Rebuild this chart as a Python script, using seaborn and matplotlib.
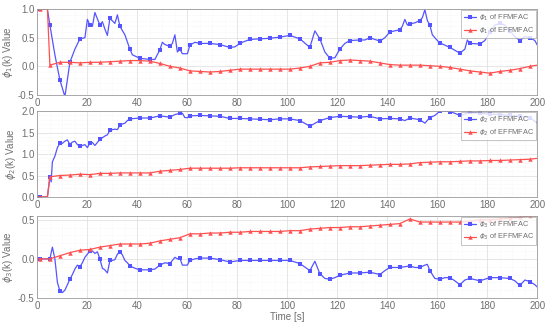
import numpy as np
import pandas as pd
import seaborn as sns
import matplotlib
matplotlib.use("Agg")
import matplotlib.pyplot as plt
from matplotlib.ticker import MultipleLocator, FormatStrFormatter

# ---- panel 1 ----
t1_ff = [0, 1, 4, 5, 7, 9, 11, 13, 15, 17, 19, 20, 21, 22, 23, 25, 26, 27, 28, 29, 31, 32, 33, 35, 37, 38,
         41, 45, 47, 49, 50, 51, 53, 54, 55, 56, 57, 58, 60, 61, 63, 65, 69, 73, 77, 79, 81, 82, 85, 89,
         93, 97, 101, 105, 109, 111, 113, 115, 117, 119, 121, 123, 125, 129, 131, 133, 137, 139, 141, 145,
         146, 147, 148, 149, 151, 153, 154, 155, 156, 157, 158, 160, 161, 165, 167, 169, 171, 172, 173, 177,
         179, 181, 183, 185, 187, 189, 191, 193, 195, 197, 199, 200]
phi1_ff = [1.0, 1.0, 1.0, 0.72, 0.2, -0.24, -0.53, 0.07, 0.3, 0.48, 0.5, 0.82, 0.72, 0.7, 0.94, 0.72, 0.78,
           0.65, 0.54, 0.84, 0.75, 0.9, 0.7, 0.55, 0.3, 0.2, 0.14, 0.12, 0.12, 0.29, 0.42, 0.38, 0.35, 0.4,
           0.55, 0.25, 0.3, 0.22, 0.22, 0.37, 0.42, 0.4, 0.4, 0.38, 0.33, 0.34, 0.4, 0.42, 0.47, 0.48, 0.49,
           0.51, 0.54, 0.48, 0.33, 0.62, 0.48, 0.25, 0.14, 0.15, 0.3, 0.4, 0.45, 0.46, 0.46, 0.5, 0.44, 0.5,
           0.6, 0.64, 0.7, 0.82, 0.72, 0.74, 0.76, 0.8, 0.85, 0.99, 0.8, 0.72, 0.55, 0.45, 0.41, 0.33, 0.28,
           0.23, 0.3, 0.46, 0.4, 0.39, 0.45, 0.6, 0.72, 0.75, 0.72, 0.62, 0.52, 0.45, 0.52, 0.5, 0.45, 0.37]

t_eff = [0, 1, 4, 5, 9, 13, 17, 21, 25, 29, 33, 37, 41, 45, 49, 53, 57, 61, 65, 69, 73, 77, 81, 85, 89, 93,
         97, 101, 105, 109, 113, 117, 121, 125, 129, 133, 137, 141, 145, 149, 153, 157, 161, 165, 169, 173,
         177, 181, 185, 189, 193, 197, 200]
phi1_eff = [1.0, 1.0, 1.0, 0.02, 0.07, 0.07, 0.06, 0.07, 0.07, 0.08, 0.09, 0.1, 0.1, 0.09, 0.05, 0.0,
            -0.03, -0.08, -0.09, -0.1, -0.09, -0.07, -0.05, -0.05, -0.05, -0.05, -0.05, -0.05, -0.03, 0.0,
            0.06, 0.07, 0.1, 0.11, 0.1, 0.09, 0.06, 0.03, 0.02, 0.02, 0.02, 0.01, 0.0, -0.02, -0.05, -0.08,
            -0.1, -0.12, -0.09, -0.07, -0.04, 0.0, 0.02]

# ---- panel 2 ----
t2_ff = [0, 1, 4, 5, 5.5, 6, 7, 8, 9, 10, 11, 12, 13, 14, 15, 16, 17, 18, 19, 20, 21, 22, 23, 25, 26, 27,
         28, 29, 30, 31, 32, 33, 34, 35, 36, 37, 41, 45, 49, 53, 55, 57, 58, 59, 60, 61, 65, 69, 73, 77,
         81, 85, 89, 93, 97, 101, 105, 109, 113, 117, 121, 125, 129, 133, 137, 141, 145, 147, 149, 151,
         153, 155, 157, 159, 161, 163, 165, 167, 169, 171, 173, 177, 181, 185, 189, 193, 197, 200]
phi2_ff = [0.0, 0.0, 0.0, 0.47, 0.35, 0.82, 0.95, 1.15, 1.25, 1.25, 1.3, 1.33, 1.22, 1.28, 1.3, 1.22, 1.18,
           1.2, 1.22, 1.15, 1.26, 1.27, 1.2, 1.34, 1.38, 1.42, 1.45, 1.55, 1.57, 1.58, 1.57, 1.67, 1.7, 1.72,
           1.78, 1.82, 1.84, 1.84, 1.89, 1.86, 1.92, 1.95, 1.95, 1.85, 1.85, 1.89, 1.9, 1.89, 1.88, 1.83,
           1.83, 1.82, 1.81, 1.8, 1.82, 1.82, 1.78, 1.65, 1.78, 1.85, 1.88, 1.87, 1.86, 1.88, 1.82, 1.83,
           1.82, 1.78, 1.84, 1.82, 1.8, 1.72, 1.85, 1.9, 2.0, 2.0, 1.99, 1.95, 1.9, 1.93, 1.97, 1.95, 1.93,
           1.92, 1.9, 1.88, 1.85, 1.72]
phi2_eff = [0.0, 0.0, 0.0, 0.47, 0.5, 0.51, 0.53, 0.52, 0.55, 0.55, 0.56, 0.56, 0.56, 0.56, 0.6, 0.62,
            0.64, 0.67, 0.67, 0.67, 0.67, 0.67, 0.68, 0.68, 0.68, 0.68, 0.68, 0.68, 0.68, 0.7, 0.71, 0.72,
            0.73, 0.73, 0.73, 0.74, 0.75, 0.76, 0.76, 0.77, 0.8, 0.81, 0.82, 0.82, 0.83, 0.84, 0.84, 0.85,
            0.85, 0.86, 0.87, 0.88, 0.9]

# ---- panel 3 ----
t3_ff = [0, 1, 5, 6, 7, 8, 9, 10, 11, 12, 13, 14, 15, 16, 17, 18, 19, 20, 21, 22, 23, 24, 25, 26, 27, 28,
         29, 30, 31, 32, 33, 34, 35, 36, 37, 39, 41, 45, 47, 49, 51, 53, 55, 56, 57, 58, 60, 61, 63, 65,
         69, 73, 77, 81, 85, 89, 93, 97, 101, 105, 109, 111, 113, 115, 117, 119, 121, 125, 129, 133, 137,
         139, 141, 145, 149, 151, 153, 155, 156, 157, 159, 161, 163, 165, 167, 169, 171, 173, 177, 181,
         185, 189, 191, 193, 195, 197, 199, 200]
phi3_ff = [0.0, 0.0, 0.0, 0.15, 0.0, -0.3, -0.41, -0.43, -0.4, -0.33, -0.26, -0.2, -0.13, -0.08, -0.1,
           -0.05, 0.02, 0.06, 0.1, 0.1, 0.07, 0.09, 0.0, -0.12, -0.14, -0.18, -0.02, -0.02, -0.01, 0.06,
           0.09, 0.05, -0.02, -0.05, -0.09, -0.12, -0.14, -0.14, -0.13, -0.08, -0.05, -0.06, 0.02, 0.0,
           0.01, -0.08, -0.08, -0.02, 0.0, 0.01, 0.01, -0.01, -0.04, -0.02, -0.02, -0.02, -0.02, -0.02,
           -0.02, -0.06, -0.15, -0.03, -0.19, -0.25, -0.26, -0.24, -0.21, -0.18, -0.18, -0.17, -0.2, -0.15,
           -0.11, -0.11, -0.09, -0.11, -0.11, -0.08, -0.07, -0.15, -0.25, -0.26, -0.24, -0.24, -0.28, -0.33,
           -0.27, -0.25, -0.28, -0.24, -0.24, -0.25, -0.28, -0.34, -0.27, -0.29, -0.33, -0.36]
phi3_eff = [0.0, 0.0, 0.0, 0.0, 0.04, 0.08, 0.11, 0.12, 0.15, 0.17, 0.19, 0.19, 0.19, 0.2, 0.23, 0.25,
            0.27, 0.32, 0.32, 0.33, 0.33, 0.34, 0.34, 0.35, 0.35, 0.35, 0.35, 0.36, 0.36, 0.38, 0.39, 0.4,
            0.4, 0.41, 0.41, 0.42, 0.43, 0.44, 0.45, 0.51, 0.47, 0.47, 0.47, 0.47, 0.47, 0.48, 0.5, 0.5,
            0.51, 0.52, 0.53, 0.55, 0.55]

panels = [
    (t1_ff, phi1_ff, phi1_eff, 1, (-0.5, 1.0)),
    (t2_ff, phi2_ff, phi2_eff, 2, (0.0, 2.0)),
    (t3_ff, phi3_ff, phi3_eff, 3, (-0.5, 0.55)),
]

sns.set_theme(style="white")
plt.rcParams['font.family'] = ['Liberation Sans', 'DejaVu Sans']
plt.rcParams['mathtext.fontset'] = 'dejavusans'

blue = "#5555ff"
red = "#ff5050"
grey = "#6e6e6e"

fig = plt.figure(figsize=(5.5, 3.25), dpi=100)
boxes = [(0.068, 0.708, 0.909, 0.264), (0.068, 0.394, 0.909, 0.264), (0.068, 0.083, 0.909, 0.253)]

for (tff, ff, eff, k, ylim), box in zip(panels, boxes):
    ax = fig.add_axes(box)
    tff = np.array(tff, dtype=float)
    teff = np.array(t_eff, dtype=float)
    mk_ff = list(np.where(((tff - 1) % 4 == 0))[0])
    mk_eff = list(np.where(((teff - 1) % 4 == 0))[0])
    sns.lineplot(x=tff, y=ff, ax=ax, color=blue, lw=0.9, marker="s", markersize=2.6,
                 markeredgewidth=0, markevery=mk_ff, label=rf"$\phi_{k}$ of FFMFAC")
    sns.lineplot(x=teff, y=eff, ax=ax, color=red, lw=0.9, marker="^", markersize=3.2,
                 markeredgewidth=0, markevery=mk_eff, label=rf"$\phi_{k}$ of EFFMFAC")
    ax.set_xlim(0, 200)
    ax.set_ylim(*ylim)
    ax.xaxis.set_major_locator(MultipleLocator(20))
    ax.xaxis.set_minor_locator(MultipleLocator(5))
    ax.yaxis.set_major_locator(MultipleLocator(0.5))
    ax.yaxis.set_minor_locator(MultipleLocator(0.1))
    ax.yaxis.set_major_formatter(FormatStrFormatter("%.1f"))
    ax.grid(which="major", color="#dcdcdc", lw=0.5)
    ax.grid(which="minor", color="#eeeeee", lw=0.4, ls=":")
    ax.tick_params(labelsize=7, colors=grey, length=0, pad=2)
    for s in ax.spines.values():
        s.set_color("#9a9a9a")
        s.set_linewidth(0.6)
    ax.set_ylabel(rf"$\phi_{k}$(k) Value", fontsize=7, color=grey, labelpad=2)
    ax.set_xlabel("")
    leg = ax.legend(loc="upper right", fontsize=5.3, frameon=True, fancybox=False,
                    borderpad=0.35, handlelength=1.6, handletextpad=0.4,
                    labelspacing=0.35, borderaxespad=0.15)
    leg.get_frame().set_edgecolor("#9a9a9a")
    leg.get_frame().set_linewidth(0.5)
    for txt in leg.get_texts():
        txt.set_color(grey)
    if k == 3:
        ax.set_xlabel("Time [s]", fontsize=7, color=grey, labelpad=1)

fig.savefig("out.png", dpi=100)
